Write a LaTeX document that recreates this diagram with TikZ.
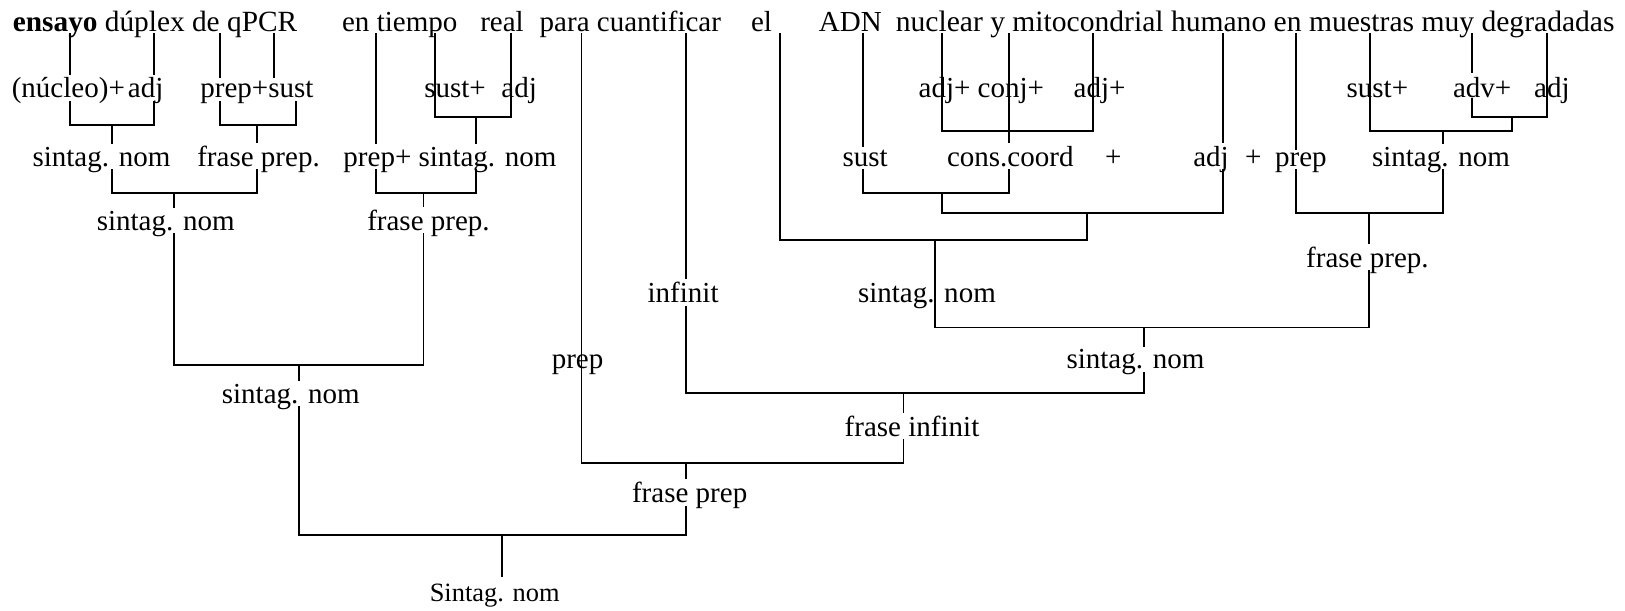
\documentclass[tikz,border=0pt]{standalone}
\usepackage{fontspec}
\setmainfont{Liberation Serif}
\begin{document}
\begin{tikzpicture}[x=0.5pt,y=-0.5pt,
  lbl/.style={anchor=base west,inner sep=0pt,font=\fontsize{14}{16}\selectfont},
  lblw/.style={lbl,fill=white,text depth=0pt,inner ysep=1.5pt},
  ln/.style={line width=0.85pt}]
\useasboundingbox (0,0) rectangle (1568,589);
% tops of word lines
\coordinate (wEns) at (67.5,32);
\coordinate (wDup) at (148.5,32);
\coordinate (wDe) at (212,32);
\coordinate (wQ) at (264.6,32);
\coordinate (wEn) at (362.8,32);
\coordinate (wTie) at (419.7,32);
\coordinate (wReal) at (493,32);
\coordinate (wPara) at (561.2,32);
\coordinate (wCuan) at (661.6,32);
\coordinate (wEl) at (752.6,32);
\coordinate (wADN) at (833,32);
\coordinate (wNuc) at (908.6,32);
\coordinate (wY) at (973.9,32);
\coordinate (wMit) at (1055,32);
\coordinate (wHum) at (1180.4,32);
\coordinate (wEn2) at (1250.2,32);
\coordinate (wMue) at (1321.9,32);
\coordinate (wMuy) at (1420,32);
\coordinate (wDeg) at (1493,32);
% other ends
\coordinate (qEnd) at (264.6,80);
\coordinate (sTop) at (285.3,94);
\coordinate (muyEnd) at (1420,70.8);
\coordinate (advTop) at (1420,94.9);
\coordinate (bEnd) at (484.7,556.4);
% junctions
\coordinate (j1) at (108,120.6);
\coordinate (j2) at (248.1,120.6);
\coordinate (j3) at (167.8,186.5);
\coordinate (j4) at (459,113.2);
\coordinate (j5) at (408.6,186.5);
\coordinate (j6) at (288.8,352);
\coordinate (j7) at (484.7,516.2);
\coordinate (jA) at (1458.6,113.2);
\coordinate (jB) at (1392.6,126.4);
\coordinate (jC) at (1321.2,205.8);
\coordinate (jD) at (973.9,126.4);
\coordinate (jE) at (908.6,186.5);
\coordinate (jF) at (1049,205.8);
\coordinate (jG) at (902.2,231.6);
\coordinate (jH) at (1104,316);
\coordinate (jI) at (871.8,379);
\coordinate (jJ) at (661.6,447);
% connectors
\draw[ln] (wEns) |- (j1) -| (wDup);
\draw[ln] (wQ) -- (qEnd);
\draw[ln] (wDe) |- (j2) -| (sTop);
\draw[ln] (j1) |- (j3) -| (j2);
\draw[ln] (wTie) |- (j4) -| (wReal);
\draw[ln] (wEn) |- (j5) -| (j4);
\draw[ln] (j3) |- (j6) -| (j5);
\draw[ln] (j6) |- (j7) -| (jJ);
\draw[ln] (j7) -- (bEnd);
\draw[ln] (wPara) |- (jJ) -| (jI);
\draw[ln] (wCuan) |- (jI) -| (jH);
\draw[ln] (jG) |- (jH) -| (jC);
\draw[ln] (wEl) |- (jG) -| (jF);
\draw[ln] (jE) |- (jF) -| (wHum);
\draw[ln] (wADN) |- (jE) -| (wY);
\draw[ln] (wNuc) |- (jD) -| (wMit);
\draw[ln] (wEn2) |- (jC) -| (jB);
\draw[ln] (wMue) |- (jB) -| (jA);
\draw[ln] (wMuy) -- (muyEnd);
\draw[ln] (advTop) |- (jA) -| (wDeg);
% row 1
\node[lbl,font=\fontsize{14.15}{16}\selectfont] (t1) at (12,30) {\textbf{ensayo} dúplex de qPCR};
\node[lbl] (t2) at (329.7,30) {en tiempo};
\node[lbl] (t3) at (463,30) {real};
\node[lbl] (t4) at (520.4,30) {para cuantificar};
\node[lbl] (t5) at (724.3,30) {el};
\node[lbl] (t6) at (789.8,30) {ADN};
\node[lbl,font=\fontsize{14.27}{16}\selectfont] (t7) at (864,30) {nuclear y mitocondrial humano en muestras muy degradadas};
% row 2
\node[lblw] (r2a) at (11,94.5) {(núcleo)+\kern1.5pt adj};
\node[lblw] (r2b) at (193,94.5) {prep+sust};
\node[lbl] (r2c) at (409,94.5) {sust+};
\node[lbl] (r2d) at (483.5,94.5) {adj};
\node[lbl] (r2e) at (886,94.5) {adj+ conj+};
\node[lbl] (r2f) at (1035.6,94.5) {adj+};
\node[lbl] (r2g) at (1299,94.5) {sust+};
\node[lbl] (r2h) at (1401.7,94.5) {adv+};
\node[lbl] (r2i) at (1480,94.5) {adj};
% row 3
\node[lblw] (r3a) at (31,160.5) {sintag. nom};
\node[lblw] (r3b) at (190,160.5) {frase prep.};
\node[lblw] (r3c) at (331,160.5) {prep+ sintag. nom};
\node[lblw] (r3d) at (812.6,160.5) {sust};
\node[lblw] (r3e) at (913.4,160.5) {cons.coord};
\node[lbl] (r3f) at (1066,160.5) {+};
\node[lblw] (r3g) at (1151,160.5) {adj};
\node[lbl] (r3h) at (1201,160.5) {+};
\node[lblw] (r3i) at (1230,160.5) {prep};
\node[lblw] (r3j) at (1323.5,160.5) {sintag. nom};
% lower labels
\node[lblw] (r4a) at (93,222) {sintag. nom};
\node[lblw] (r4b) at (354,222) {frase prep.};
\node[lblw] (fp3) at (1260,258) {frase prep.};
\node[lblw] (inf) at (624.5,292) {infinit};
\node[lbl] (sn5) at (827.5,292) {sintag. nom};
\node[lbl] (prp) at (532,356) {prep};
\node[lblw] (sn6) at (1028.7,356) {sintag. nom};
\node[lblw] (sn7) at (213.7,389) {sintag. nom};
\node[lblw] (fi) at (814.7,421) {frase infinit};
\node[lblw] (fp4) at (609.5,485) {frase prep};
\node[lbl,font=\fontsize{12.75}{15}\selectfont] (root) at (414.3,580.5) {Sintag. nom};
\end{tikzpicture}
\end{document}
